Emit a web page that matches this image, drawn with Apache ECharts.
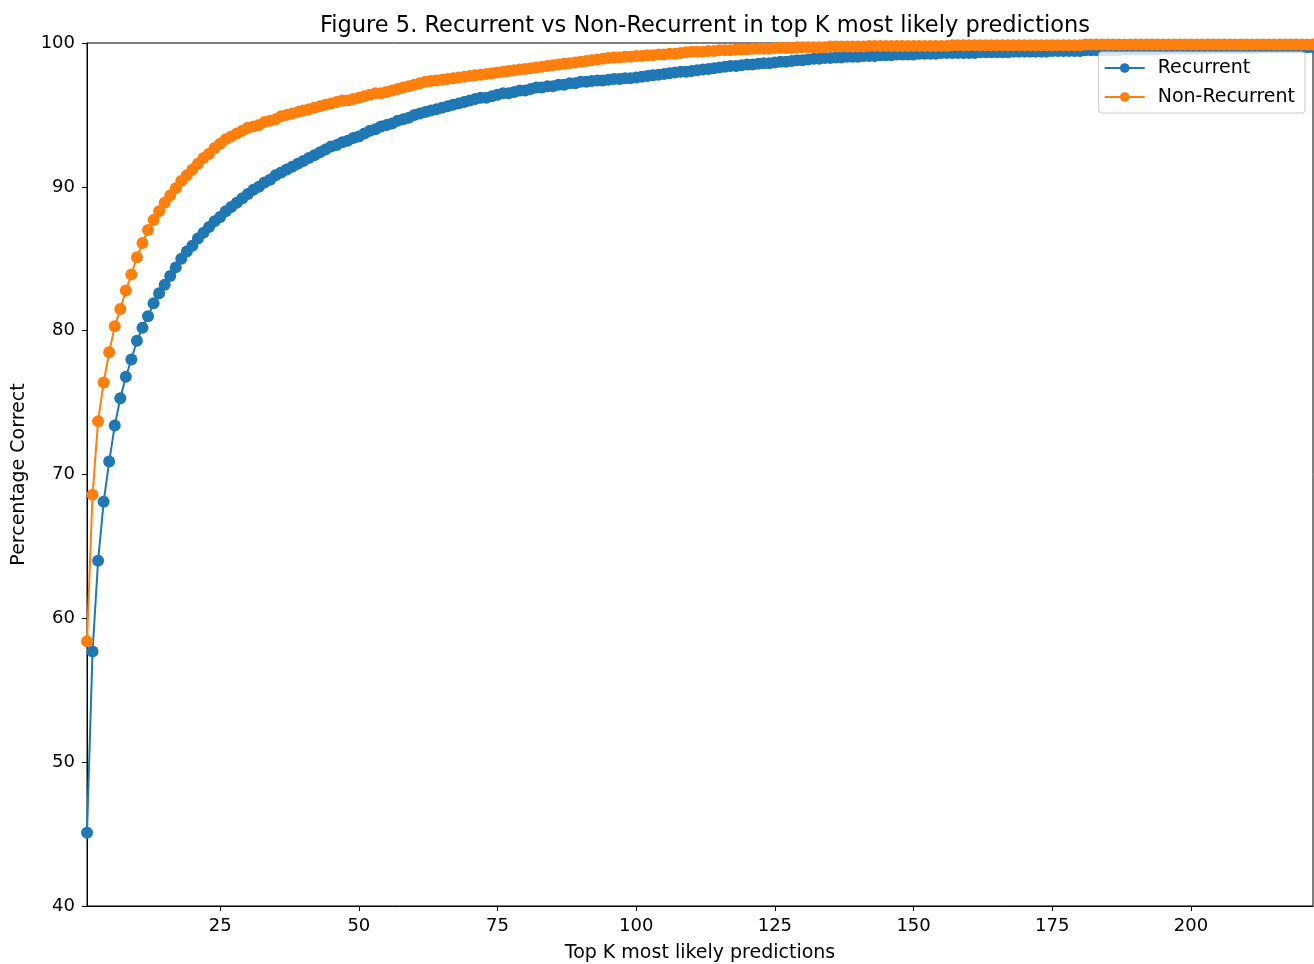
<!DOCTYPE html>
<html>
<head>
<meta charset="utf-8">
<script src="https://cdn.jsdelivr.net/npm/echarts@6/dist/echarts.min.js"></script>
<style>html,body{margin:0;padding:0;background:#fff;}#c{width:1314px;height:964px;}</style>
</head>
<body>
<div id="c"></div>
<script>
// Top K values are 1..N (index + 1)
const recurrent = [
 45.1, 57.7, 64.0, 68.1, 70.9, 73.4, 75.3, 76.8, 78.0, 79.3,
 80.2, 81.0, 81.9, 82.6, 83.2, 83.8, 84.4, 85.0, 85.5, 85.9,
 86.4, 86.8, 87.2, 87.6, 87.9, 88.3, 88.6, 88.9, 89.2, 89.5,
 89.8, 90.0, 90.3, 90.5, 90.8, 91.0, 91.2, 91.4, 91.6, 91.8,
 92.0, 92.2, 92.4, 92.6, 92.8, 92.9, 93.1, 93.2, 93.4, 93.5,
 93.7, 93.9, 94.0, 94.2, 94.3, 94.4, 94.6, 94.7, 94.8, 95.0,
 95.1, 95.2, 95.3, 95.4, 95.5, 95.6, 95.7, 95.8, 95.9, 96.0,
 96.1, 96.2, 96.2, 96.3, 96.4, 96.5, 96.5, 96.6, 96.7, 96.7,
 96.8, 96.9, 96.9, 97.0, 97.0, 97.1, 97.1, 97.2, 97.2, 97.3,
 97.3, 97.35, 97.4, 97.4, 97.45, 97.5, 97.5, 97.55, 97.55, 97.6,
 97.65, 97.7, 97.75, 97.8, 97.85, 97.9, 97.95, 98.0, 98.0, 98.05,
 98.1, 98.15, 98.2, 98.25, 98.3, 98.35, 98.4, 98.4, 98.45, 98.5,
 98.5, 98.55, 98.6, 98.6, 98.65, 98.7, 98.7, 98.75, 98.8, 98.8,
 98.85, 98.9, 98.9, 98.95, 98.95, 99.0, 99.0, 99.05, 99.05, 99.05,
 99.1, 99.1, 99.1, 99.15, 99.15, 99.15, 99.2, 99.2, 99.2, 99.2,
 99.25, 99.25, 99.25, 99.25, 99.3, 99.3, 99.3, 99.3, 99.3, 99.3,
 99.3, 99.35, 99.35, 99.35, 99.35, 99.35, 99.35, 99.4, 99.4, 99.4,
 99.4, 99.4, 99.4, 99.4, 99.45, 99.45, 99.45, 99.45, 99.45, 99.45,
 99.5, 99.5, 99.5, 99.5, 99.5, 99.5, 99.5, 99.55, 99.55, 99.55,
 99.55, 99.55, 99.55, 99.55, 99.6, 99.6, 99.6, 99.6, 99.6, 99.6,
 99.6, 99.6, 99.6, 99.65, 99.65, 99.65, 99.65, 99.65, 99.65, 99.65,
 99.65, 99.65, 99.7, 99.7, 99.7, 99.7, 99.7, 99.7, 99.7, 99.7, 99.7, 99.7
];
const nonRecurrent = [
 58.4, 68.6, 73.7, 76.4, 78.5, 80.3, 81.5, 82.8, 83.9, 85.1,
 86.1, 87.0, 87.7, 88.3, 88.9, 89.4, 89.9, 90.4, 90.8, 91.2,
 91.6, 92.0, 92.3, 92.7, 93.0, 93.3, 93.5, 93.7, 93.9, 94.1,
 94.2, 94.3, 94.5, 94.6, 94.7, 94.9, 95.0, 95.1, 95.2, 95.3,
 95.4, 95.5, 95.6, 95.7, 95.8, 95.9, 96.0, 96.0, 96.1, 96.2,
 96.3, 96.4, 96.5, 96.5, 96.6, 96.7, 96.8, 96.9, 97.0, 97.1,
 97.2, 97.3, 97.35, 97.4, 97.45, 97.5, 97.55, 97.6, 97.65, 97.7,
 97.75, 97.8, 97.85, 97.9, 97.95, 98.0, 98.05, 98.1, 98.15, 98.2,
 98.25, 98.3, 98.35, 98.4, 98.45, 98.5, 98.55, 98.6, 98.65, 98.7,
 98.75, 98.8, 98.85, 98.9, 98.95, 99.0, 99.0, 99.05, 99.05, 99.1,
 99.1, 99.15, 99.15, 99.2, 99.2, 99.25, 99.25, 99.3, 99.35, 99.4,
 99.4, 99.4, 99.45, 99.45, 99.5, 99.5, 99.5, 99.55, 99.55, 99.55,
 99.6, 99.6, 99.6, 99.6, 99.65, 99.65, 99.65, 99.65, 99.7, 99.7,
 99.7, 99.7, 99.7, 99.7, 99.75, 99.75, 99.75, 99.75, 99.75, 99.75,
 99.75, 99.8, 99.8, 99.8, 99.8, 99.8, 99.8, 99.8, 99.8, 99.8,
 99.8, 99.8, 99.8, 99.8, 99.8, 99.8, 99.85, 99.85, 99.85, 99.85,
 99.85, 99.85, 99.85, 99.85, 99.85, 99.85, 99.85, 99.85, 99.85, 99.85,
 99.85, 99.85, 99.85, 99.85, 99.85, 99.85, 99.85, 99.85, 99.85, 99.85,
 99.9, 99.9, 99.9, 99.9, 99.9, 99.9, 99.9, 99.9, 99.9, 99.9,
 99.9, 99.9, 99.9, 99.9, 99.9, 99.9, 99.9, 99.9, 99.9, 99.9,
 99.9, 99.9, 99.9, 99.9, 99.9, 99.9, 99.9, 99.9, 99.9, 99.9,
 99.9, 99.9, 99.9, 99.9, 99.9, 99.9, 99.9, 99.9, 99.9, 99.9, 99.9, 99.9
];
const xTicks = [25, 50, 75, 100, 125, 150, 175, 200];
const seriesNames = ['Recurrent', 'Non-Recurrent'];
const colors = ['#1f77b4', '#ff7f0e'];

const font = 'DejaVu Sans';
const toPairs = arr => arr.map((v, i) => [i + 1, v]);

const chart = echarts.init(document.getElementById('c'), null, {renderer: 'canvas'});
chart.setOption({
  animation: false,
  backgroundColor: '#fff',
  title: {
    text: 'Figure 5. Recurrent vs Non-Recurrent in top K most likely predictions',
    left: 700, top: 10, textAlign: 'center',
    textStyle: {fontFamily: font, fontSize: 22.5, fontWeight: 'normal', color: '#000'}
  },
  legend: {
    orient: 'vertical',
    right: 9, top: 52,
    data: seriesNames,
    itemWidth: 40, itemHeight: 12, itemGap: 10,
    padding: [6.5, 10, 6.5, 5],
    backgroundColor: 'rgba(255,255,255,0.8)',
    borderColor: '#cccccc', borderWidth: 1, borderRadius: 3,
    textStyle: {fontFamily: font, fontSize: 19, color: '#000', padding: [0, 0, 0, 8]}
  },
  grid: {
    left: 87, right: 1, top: 43, bottom: 58,
    containLabel: false, outerBoundsMode: 'none',
    show: true, borderColor: '#000', borderWidth: 1, backgroundColor: 'transparent'
  },
  xAxis: {
    type: 'value', min: 1, max: 222,
    name: 'Top K most likely predictions',
    nameLocation: 'middle', nameGap: 38,
    nameTextStyle: {fontFamily: font, fontSize: 19, color: '#000'},
    axisLine: {show: true, lineStyle: {color: '#000', width: 1}},
    axisTick: {show: true, customValues: xTicks, length: 5, lineStyle: {color: '#000'}},
    axisLabel: {customValues: xTicks, fontFamily: font, fontSize: 18, color: '#000', margin: 11},
    splitLine: {show: false}
  },
  yAxis: {
    type: 'value', min: 40, max: 100, interval: 10,
    name: 'Percentage Correct',
    nameLocation: 'middle', nameGap: 58,
    nameTextStyle: {fontFamily: font, fontSize: 19, color: '#000'},
    axisLine: {show: true, lineStyle: {color: '#000', width: 1}},
    axisTick: {show: true, length: 5, lineStyle: {color: '#000'}},
    axisLabel: {fontFamily: font, fontSize: 18, color: '#000', margin: 12},
    splitLine: {show: false}
  },
  series: [
    {
      name: seriesNames[0], type: 'line', data: toPairs(recurrent),
      symbol: 'circle', symbolSize: 12, showAllSymbol: true,
      itemStyle: {color: colors[0]}, lineStyle: {color: colors[0], width: 2},
      clip: true, z: 2
    },
    {
      name: seriesNames[1], type: 'line', data: toPairs(nonRecurrent),
      symbol: 'circle', symbolSize: 12, showAllSymbol: true,
      itemStyle: {color: colors[1]}, lineStyle: {color: colors[1], width: 2},
      clip: true, z: 3
    }
  ]
});
</script>
</body>
</html>
